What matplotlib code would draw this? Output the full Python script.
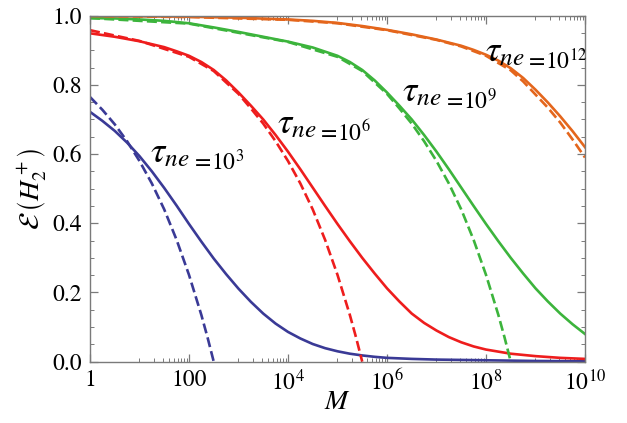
import numpy as np
import matplotlib
matplotlib.use("Agg")
import matplotlib.pyplot as plt
from matplotlib.ticker import FixedLocator, NullFormatter

plt.rcParams["font.family"] = "STIXGeneral"
plt.rcParams["mathtext.fontset"] = "stix"

# ---- data: log10(M) positions and efficiency values ----
tau_exponents = [3, 6, 9, 12]

logm_solid_3 = [0, 0.25, 0.5, 0.75, 1.0, 1.25, 1.5, 1.75, 2.0, 2.25, 2.5, 2.75, 3.0, 3.25, 3.5,
                3.75, 4.0, 4.25, 4.5, 4.75, 5.0, 5.25, 5.5, 5.75, 6.0, 6.5, 7.0, 7.5, 8.0, 9.0, 10.0]
eff_solid_3 = [0.722, 0.696, 0.667, 0.633, 0.594, 0.550, 0.502, 0.451, 0.398, 0.347, 0.298, 0.253,
               0.211, 0.173, 0.139, 0.110, 0.086, 0.067, 0.051, 0.039, 0.030, 0.023, 0.018, 0.014,
               0.011, 0.008, 0.006, 0.005, 0.004, 0.002, 0.001]

logm_dashed_3 = [0, 0.25, 0.5, 0.75, 1.0, 1.25, 1.5, 1.75, 2.0, 2.25, 2.375, 2.5]
eff_dashed_3 = [0.765, 0.728, 0.686, 0.637, 0.580, 0.515, 0.440, 0.352, 0.251, 0.135, 0.070, 0.0]

logm_solid_6 = [0, 0.5, 1.0, 1.5, 1.75, 2.0, 2.25, 2.5, 2.75, 3.0, 3.25, 3.5, 3.75, 4.0, 4.25,
                4.5, 4.75, 5.0, 5.25, 5.5, 5.75, 6.0, 6.25, 6.5, 6.75, 7.0, 7.25, 7.5, 7.75, 8.0,
                8.5, 9.0, 9.5, 10.0]
eff_solid_6 = [0.949, 0.939, 0.926, 0.909, 0.897, 0.884, 0.866, 0.843, 0.813, 0.778, 0.740, 0.700,
               0.655, 0.607, 0.556, 0.503, 0.450, 0.398, 0.348, 0.300, 0.255, 0.212, 0.174, 0.139,
               0.112, 0.090, 0.071, 0.056, 0.044, 0.035, 0.023, 0.016, 0.011, 0.008]

logm_dashed_6 = [0, 1.0, 2.0, 2.5, 3.0, 3.25, 3.5, 3.75, 4.0, 4.25, 4.5, 4.75, 5.0, 5.25, 5.375, 5.5]
eff_dashed_6 = [0.958, 0.927, 0.881, 0.840, 0.774, 0.732, 0.688, 0.637, 0.580, 0.515, 0.440,
                0.352, 0.251, 0.135, 0.070, 0.0]

logm_solid_9 = [0, 0.5, 1.0, 1.5, 2.0, 2.5, 3.0, 3.5, 4.0, 4.5, 5.0, 5.25, 5.5, 5.75, 6.0, 6.25,
                6.5, 6.75, 7.0, 7.25, 7.5, 7.75, 8.0, 8.25, 8.5, 8.75, 9.0, 9.25, 9.5, 9.75, 10.0]
eff_solid_9 = [0.993, 0.992, 0.989, 0.985, 0.978, 0.966, 0.953, 0.939, 0.925, 0.908, 0.884, 0.866,
               0.843, 0.813, 0.778, 0.740, 0.700, 0.655, 0.607, 0.556, 0.503, 0.450, 0.398, 0.348,
               0.300, 0.255, 0.212, 0.174, 0.139, 0.108, 0.080]

logm_dashed_9 = [0, 2.0, 4.0, 5.0, 5.5, 6.0, 6.25, 6.5, 6.75, 7.0, 7.25, 7.5, 7.75, 8.0, 8.25,
                 8.375, 8.5]
eff_dashed_9 = [0.993, 0.977, 0.924, 0.881, 0.840, 0.774, 0.732, 0.688, 0.637, 0.580, 0.515,
                0.440, 0.352, 0.251, 0.135, 0.070, 0.0]

logm_solid_12 = [0, 2.0, 3.0, 4.0, 4.5, 5.0, 5.5, 6.0, 6.5, 7.0, 7.5, 7.75, 8.0, 8.25, 8.5, 8.75,
                 9.0, 9.25, 9.5, 9.75, 10.0]
eff_solid_12 = [0.999, 0.997, 0.994, 0.989, 0.985, 0.979, 0.970, 0.959, 0.946, 0.931, 0.913,
                0.901, 0.887, 0.870, 0.848, 0.820, 0.786, 0.749, 0.709, 0.666, 0.620]

logm_dashed_12 = [0, 2.0, 4.0, 5.0, 6.0, 7.0, 7.5, 8.0, 8.5, 8.75, 9.0, 9.25, 9.5, 9.75, 10.0]
eff_dashed_12 = [0.9987, 0.996, 0.988, 0.978, 0.958, 0.930, 0.911, 0.884, 0.842, 0.810, 0.772,
                 0.734, 0.691, 0.642, 0.590]

xtick_labels = ["1", "100", r"$10^4$", r"$10^6$", r"$10^8$", r"$10^{10}$"]
xtick_exponents = [0, 2, 4, 6, 8, 10]

curve_colors = ["#3a3a96", "#ee1d1d", "#3cb43c", "#e4661c"]
solid_sets = [(logm_solid_3, eff_solid_3), (logm_solid_6, eff_solid_6),
              (logm_solid_9, eff_solid_9), (logm_solid_12, eff_solid_12)]
dashed_sets = [(logm_dashed_3, eff_dashed_3), (logm_dashed_6, eff_dashed_6),
               (logm_dashed_9, eff_dashed_9), (logm_dashed_12, eff_dashed_12)]

# baseline anchor of the tau symbol (log10 M, efficiency) for each annotation
label_pos = [(1.21, 0.577), (3.77, 0.66), (6.30, 0.754), (7.97, 0.868)]

fig = plt.figure(figsize=(6.27, 4.23), dpi=100)
ax = fig.add_axes([0.1435, 0.145, 0.7895, 0.818])

for (lx, ey), col in zip(solid_sets, curve_colors):
    ax.plot(10.0 ** np.array(lx), ey, color=col, lw=1.9, solid_joinstyle="round")
for (lx, ey), col in zip(dashed_sets, curve_colors):
    ax.plot(10.0 ** np.array(lx), ey, color=col, lw=1.9, dashes=(3.8, 1.6))

ax.set_xscale("log")
ax.set_xlim(1, 1e10)
ax.set_ylim(0, 1.0)

ax.xaxis.set_major_locator(FixedLocator([10.0 ** e for e in xtick_exponents]))
ax.set_xticklabels(xtick_labels)
minor_x = [j * 10.0 ** e for e in (1, 3, 5, 7, 9) for j in range(1, 10)]
ax.xaxis.set_minor_locator(FixedLocator(minor_x))
ax.xaxis.set_minor_formatter(NullFormatter())

ax.set_yticks(np.arange(0, 1.01, 0.2))
ax.set_yticklabels(["0.0", "0.2", "0.4", "0.6", "0.8", "1.0"])
ax.yaxis.set_minor_locator(FixedLocator(np.arange(0, 1.001, 0.05)))

frame_gray = "#7a7a7a"
for sp in ax.spines.values():
    sp.set_color(frame_gray)
    sp.set_linewidth(1.0)
ax.tick_params(which="both", direction="in", top=True, right=True, color=frame_gray,
               labelsize=17, labelcolor="black")
ax.tick_params(which="major", length=5.5, width=0.9, pad=6)
ax.tick_params(which="minor", length=3, width=0.7)

ax.set_xlabel(r"$M$", fontsize=20, labelpad=-4)
ax.set_ylabel(r"$\mathcal{E}\,\left(H_2^+\right)$", fontsize=20, labelpad=2)

# tau_ne labels: large symbol with subscript, then "=10^k" on the subscript baseline
fig.canvas.draw()
renderer = fig.canvas.get_renderer()
sub_drop_px = 8
for (lx, ey), te in zip(label_pos, tau_exponents):
    t1 = ax.text(10.0 ** lx, ey, r"$\tau_{ne}$", fontsize=26, ha="left", va="baseline")
    bb = t1.get_window_extent(renderer=renderer)
    x_disp, y_disp = ax.transData.transform((10.0 ** lx, ey))
    xd, yd = ax.transData.inverted().transform((bb.x1 + 1, y_disp - sub_drop_px))
    ax.text(xd, yd, r"$=\!10^{%d}$" % te, fontsize=17, ha="left", va="baseline")

fig.savefig("out.png", dpi=100)
